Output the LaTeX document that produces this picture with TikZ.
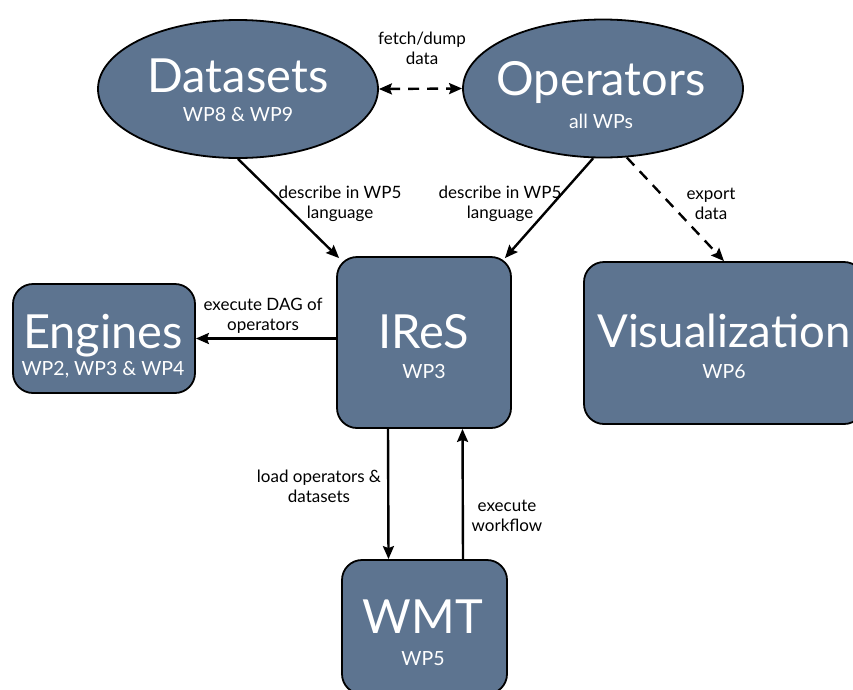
\documentclass[tikz,border=0pt]{standalone}
\usepackage{fontspec}
\setmainfont{Lato}
\usetikzlibrary{arrows.meta,shapes.geometric}
\definecolor{slate}{RGB}{93,116,144}
\tikzset{
  shp/.style={draw=black, line width=1.8pt, fill=slate},
  ell/.style={shp, ellipse, inner sep=0pt},
  rbox/.style={shp, rectangle, rounded corners=20pt, inner sep=0pt},
  ttl/.style={anchor=base, text=white, font=\fontsize{47}{50}\selectfont, inner sep=0pt},
  sub/.style={anchor=base, text=white, font=\fontsize{19.5}{22}\selectfont, inner sep=0pt},
  lbl/.style={align=center, text=black, font=\fontsize{17}{20}\selectfont, inner sep=0pt},
  arr/.style={line width=2.4pt, -{Stealth[length=13pt,width=11pt,inset=2pt]}},
  darr/.style={arr, dash pattern=on 11pt off 8pt},
}
\begin{document}
\begin{tikzpicture}[x=1pt,y=-1pt]
\useasboundingbox (0,0) rectangle (853,689);
% shapes
\node[ell, minimum width=280pt, minimum height=138pt] (ds) at (238,89) {};
\node[ell, minimum width=280pt, minimum height=138pt] (op) at (603,88.5) {};
\node[rbox, minimum width=182pt, minimum height=109pt] (eng) at (104,338.5) {};
\node[rbox, minimum width=174pt, minimum height=171pt] (ires) at (424,342.5) {};
\node[rbox, minimum width=280pt, minimum height=162pt] (vis) at (724,343) {};
\node[rbox, minimum width=165pt, minimum height=134pt] (wmt) at (424.5,627) {};
% texts
\node[ttl] (dst) at (238,92) {Datasets};
\node[sub] (dss) at (238,121) {WP8 \& WP9};
\node[ttl] (opt) at (601,95) {Operators};
\node[sub] (ops) at (601,128) {all WPs};
\node[ttl] (engt) at (103,348) {Engines};
\node[sub] (engs) at (103,375) {WP2, WP3 \& WP4};
\node[ttl] (irest) at (424,348) {IReS};
\node[sub] (iress) at (424,378) {WP3};
\node[ttl, anchor=base west, font=\fontsize{45.5}{50}\selectfont] (vist) at (597,347) {Visualization};
\node[sub] (viss) at (724,378) {WP6};
\node[ttl] (wmtt) at (423,633) {WMT};
\node[sub] (wmts) at (423,665) {WP5};
% connectors
\draw[darr, {Stealth[length=13pt,width=11pt,inset=2pt]}-{Stealth[length=13pt,width=11pt,inset=2pt]}] (ds.east) -- (op.west);
\draw[arr] (ds.south) -- ([shift={(3pt,-2pt)}]ires.north west);
\draw[arr] (op.-98) -- ([shift={(-7pt,-2pt)}]ires.north east);
\draw[darr] (op.-71) -- (vis.north);
\draw[arr] (ires.west |- eng.east) -- (eng.east);
\draw[arr] ([xshift=-36pt]ires.south) -- ([xshift=-36pt]wmt.north);
\draw[arr] ([xshift=38.5pt]wmt.north) -- ([xshift=38.5pt]ires.south);
% labels
\node[lbl] (l1) at (422,48) {fetch/dump\\data};
\node[lbl] (l2) at (340,204) {describe in WP5\\language};
\node[lbl] (l3) at (500,204) {describe in WP5\\language};
\node[lbl] (l4) at (711,204) {export\\data};
\node[lbl] (l5) at (263,316) {execute DAG of\\operators};
\node[lbl] (l6) at (319,486) {load operators \&\\datasets};
\node[lbl] (l7) at (507,516) {execute\\workflow};
\end{tikzpicture}
\end{document}
